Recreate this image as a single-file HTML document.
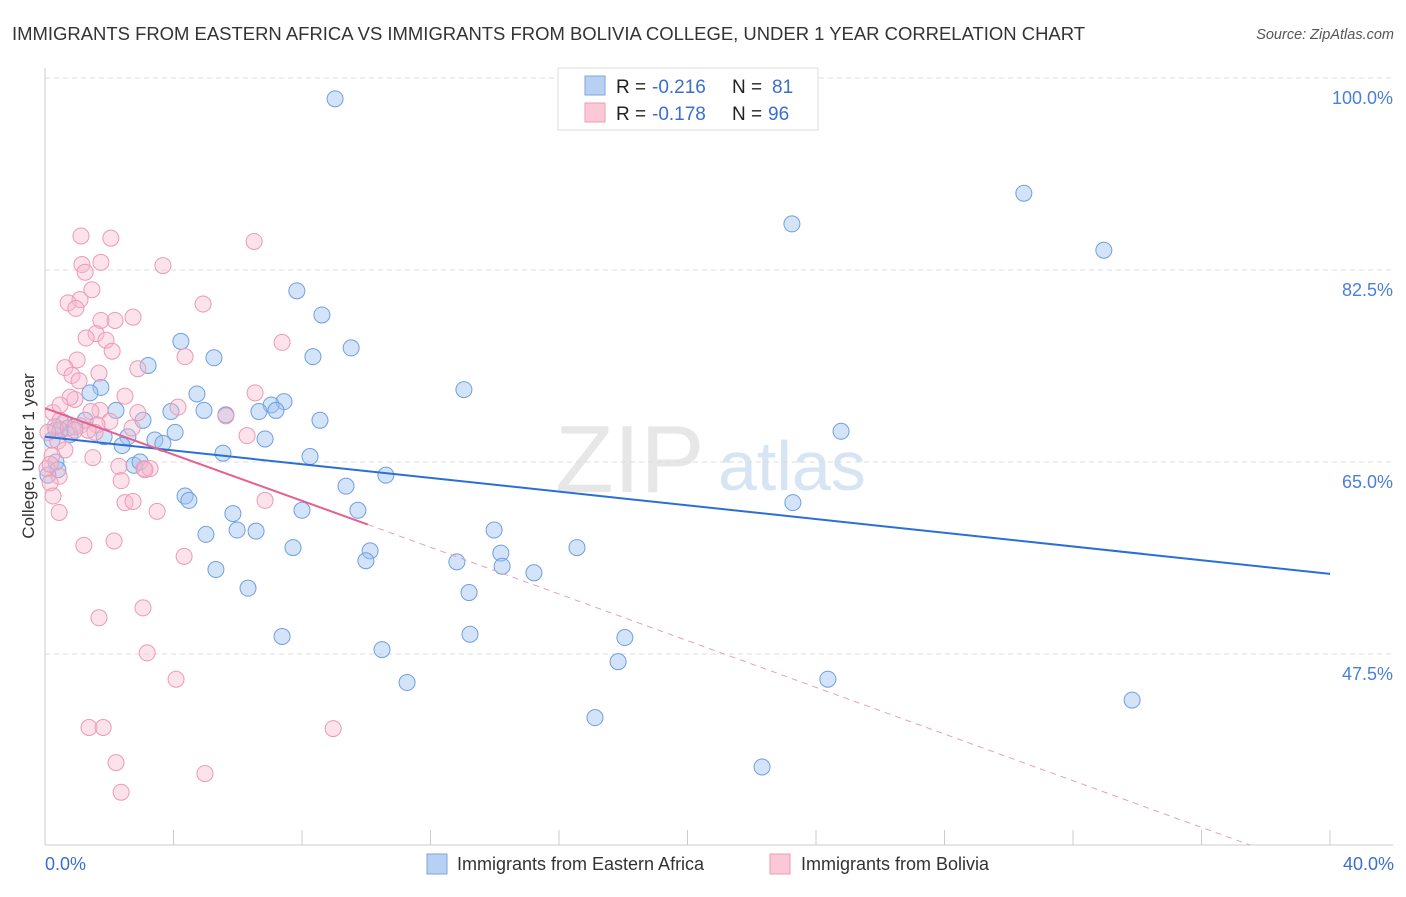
<!DOCTYPE html>
<html><head><meta charset="utf-8"><style>
body{margin:0;background:#fff;font-family:"Liberation Sans",sans-serif;}
svg text{font-family:"Liberation Sans",sans-serif;}
</style></head><body>
<svg id="chart" width="1406" height="892" xmlns="http://www.w3.org/2000/svg">
<text x="12" y="40" font-size="18" fill="#333" textLength="1073" lengthAdjust="spacingAndGlyphs">IMMIGRANTS FROM EASTERN AFRICA VS IMMIGRANTS FROM BOLIVIA COLLEGE, UNDER 1 YEAR CORRELATION CHART</text>
<text x="1394" y="39" font-size="14.5" fill="#555" text-anchor="end" font-style="italic">Source: ZipAtlas.com</text>
<text x="555" y="492" font-size="96" fill="#ddd" font-family="Liberation Serif" opacity="0.7">ZIP</text>
<text x="718" y="490" font-size="70" fill="#c7d9f0" opacity="0.7">atlas</text>
<g id="grid"></g>
<g id="axes"></g>
<g id="pts"></g>
<g id="lines"></g>
<text transform="translate(34,456) rotate(-90)" font-size="17" fill="#333" text-anchor="middle">College, Under 1 year</text>
<text x="45" y="870" font-size="18" fill="#3a6fd0">0.0%</text>
<text x="1394" y="870" font-size="18" fill="#3a6fd0" text-anchor="end">40.0%</text>
<g>
<rect x="558" y="68" width="260" height="62" fill="#fff" stroke="#ddd"/>
<rect x="585" y="76" width="20" height="19" fill="#b8d0f2" stroke="#7ea6e0"/>
<rect x="585" y="103" width="20" height="19" fill="#fbc8d8" stroke="#f09ab5"/>
<text x="616" y="93" font-size="19" fill="#222">R =<tspan x="652" fill="#3a6fd0">-0.216</tspan><tspan x="732">N =</tspan><tspan x="772" fill="#3a6fd0">81</tspan></text>
<text x="616" y="120" font-size="19" fill="#222">R =<tspan x="652" fill="#3a6fd0">-0.178</tspan><tspan x="732">N =</tspan><tspan x="768" fill="#3a6fd0">96</tspan></text>
</g>
<g>
<rect x="427" y="854" width="20" height="20" fill="#b8d0f2" stroke="#7ea6e0"/>
<text x="457" y="870" font-size="18" fill="#333">Immigrants from Eastern Africa</text>
<rect x="770" y="854" width="20" height="20" fill="#fbc8d8" stroke="#f09ab5"/>
<text x="801" y="870" font-size="18" fill="#333">Immigrants from Bolivia</text>
</g>
</svg>
<script>
const yTicks=[100,82.5,65,47.5];
const yTickLabels=["100.0%","82.5%","65.0%","47.5%"];
const xTicks=[0,4,8,12,16,20,24,28,32,36,40];
const blueX=[9.03,30.47,23.25,32.96,7.84,8.62,9.53,4.23,5.26,8.34,3.21,13.04,1.74,1.40,4.73,3.92,4.95,2.21,7.44,7.04,6.66,7.19,5.63,8.56,3.05,1.25,0.59,0.93,0.34,0.78,1.84,2.58,4.05,3.42,3.67,6.85,5.54,2.40,8.25,2.77,2.96,24.78,10.61,9.37,4.36,4.48,23.28,8.0,9.74,5.85,5.98,5.01,6.57,13.98,16.56,7.72,10.12,9.99,12.82,14.19,14.23,15.22,5.32,6.32,13.2,7.38,13.23,18.05,10.49,17.84,11.27,24.37,33.84,17.12,22.32,0.34,0.40,0.09,0.22,0.47];
const blueY=[98.1,89.5,86.7,84.3,80.6,78.4,75.4,76.0,74.5,74.6,73.8,71.6,71.8,71.3,71.2,69.6,69.7,69.7,70.5,70.2,69.6,69.7,69.3,68.8,68.8,68.8,68.6,68.2,67.9,67.5,67.3,67.3,67.7,67.0,66.7,67.1,65.8,66.5,65.5,64.7,65.0,67.8,63.8,62.8,61.9,61.5,61.3,60.6,60.6,60.3,58.8,58.4,58.7,58.8,57.2,57.2,56.9,56.0,55.9,56.7,55.5,54.9,55.2,53.5,53.1,49.1,49.3,49.0,47.9,46.8,44.9,45.2,43.3,41.7,37.2,65.0,64.3,63.8,67.0,67.9];
const pinkX=[1.12,2.05,6.51,1.74,3.67,1.15,1.25,1.46,1.09,0.72,0.96,4.92,2.18,2.74,1.74,1.59,1.28,1.90,2.09,7.38,4.36,1.0,0.62,0.84,1.68,2.89,1.06,2.49,0.93,0.78,6.54,4.14,1.71,0.25,5.63,2.89,1.43,0.47,2.02,1.62,0.31,0.72,1.09,1.56,2.71,6.29,0.40,0.62,1.49,0.22,2.30,3.08,3.27,0.06,0.44,2.37,3.11,0.16,0.25,2.49,2.74,6.85,0.44,3.49,4.33,1.21,2.15,3.05,1.68,3.18,4.08,1.37,1.81,8.97,2.21,4.98,2.37,0.09,0.16,0.47,1.34,0.93];
const pinkY=[85.6,85.4,85.1,83.2,82.9,83.0,82.3,80.7,79.8,79.5,79.0,79.4,77.9,78.2,77.9,76.7,76.3,76.1,75.1,75.9,74.6,74.3,73.6,72.9,73.1,73.5,72.4,71.0,70.7,70.9,71.3,70.0,69.7,69.5,69.2,69.5,69.6,68.8,68.7,68.4,68.2,68.1,68.3,67.7,68.1,67.4,66.9,66.1,65.4,65.6,64.6,64.4,64.4,64.4,63.7,63.3,64.3,63.1,61.9,61.3,61.4,61.5,60.4,60.5,56.4,57.4,57.8,51.7,50.8,47.6,45.2,40.8,40.8,40.7,37.6,36.6,34.9,67.7,64.8,70.2,67.9,67.9];
const blueTrend=[67.3,54.8];
const pinkTrend=[69.9,59.3,30.1];
const pinkSolidEnd=10.05, pinkDashEnd=37.5;

const X0=45,X1=1330,Y100=78,PXPER=192/17.5;
const sx=v=>X0+(v/40)*(X1-X0);
const sy=v=>Y100+(100-v)*PXPER;
const NS="http://www.w3.org/2000/svg";
function mk(tag,attrs,parent){const e=document.createElementNS(NS,tag);for(const k in attrs)e.setAttribute(k,attrs[k]);parent.appendChild(e);return e;}
const grid=document.getElementById('grid'),axes=document.getElementById('axes'),pts=document.getElementById('pts'),lines=document.getElementById('lines');
yTicks.forEach((t,i)=>{
  const l=mk('line',{x1:X0,x2:1393,y1:sy(t),y2:sy(t),stroke:'#ddd','stroke-dasharray':'5,4'},grid);
  
  
  const tx=mk('text',{x:1393,y:sy(t)+26,'font-size':18,fill:'#4a7fd8','text-anchor':'end'},grid);
  tx.textContent=yTickLabels[i];
  
  
});
const yAxis=mk('line',{x1:X0,x2:X0,y1:68,y2:845,stroke:'#ccc'},axes);


const xAxis=mk('line',{x1:X0,x2:1393,y1:845,y2:845,stroke:'#ccc'},axes);


xTicks.forEach(t=>{
  const l=mk('line',{x1:sx(t),x2:sx(t),y1:830,y2:845,stroke:'#ccc'},axes);
  
  
});
blueX.forEach((v,i)=>{
  const c=mk('circle',{cx:sx(v),cy:sy(blueY[i]),r:8,fill:'rgba(160,195,240,0.45)',stroke:'#6f9fe0','stroke-width':1},pts);
  
  
});
pinkX.forEach((v,i)=>{
  const c=mk('circle',{cx:sx(v),cy:sy(pinkY[i]),r:8,fill:'rgba(248,185,205,0.4)',stroke:'#eb9ab5','stroke-width':1},pts);
  
  
});
const bl=mk('line',{x1:sx(0),y1:sy(blueTrend[0]),x2:sx(40),y2:sy(blueTrend[1]),stroke:'#2a6fd6','stroke-width':2},lines);


const pl=mk('line',{x1:sx(0),y1:sy(pinkTrend[0]),x2:sx(pinkSolidEnd),y2:sy(pinkTrend[1]),stroke:'#e8608a','stroke-width':2},lines);


const pd=mk('line',{x1:sx(pinkSolidEnd),y1:sy(pinkTrend[1]),x2:sx(pinkDashEnd),y2:sy(pinkTrend[2]),stroke:'#e8a0b8','stroke-width':1,'stroke-dasharray':'6,5'},lines);


</script>
</body></html>
